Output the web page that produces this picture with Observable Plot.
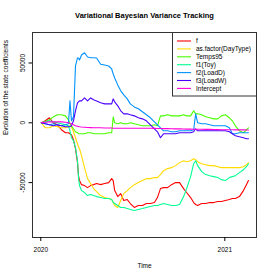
<!DOCTYPE html>
<html><head><meta charset="utf-8">
<script src="https://cdn.jsdelivr.net/npm/d3@7"></script>
<script src="https://cdn.jsdelivr.net/npm/@observablehq/plot@0.6"></script>
<style>body{margin:0;background:#fff} svg{display:block}</style>
</head><body><div id="chart"></div>
<script>
const title = "Variational Bayesian Variance Tracking";
const xLabel = "Time";
const yLabel = "Evolution of the state coefficients";
const seriesNames = ["f","as.factor(DayType)","Temps95","f1(Toy)","f2(LoadD)","f3(LoadW)","Intercept"];
const seriesColors = ["#FF0000","#FFDB00","#49FF00","#00FF92","#0092FF","#4900FF","#FF00DB"];
const yTicks = [-50000, 0, 50000];
const xTickYears = [2020, 2021];
// days since 2020-01-01
const days = [1,9,17,25,33,41,49,55,58,61,65,69,73,75,77,81,87,93,99,105,111,119,127,135,141,144,147,153,159,165,172,178,186,194,202,210,218,226,232,238,244,252,260,268,276,284,290,298,304,308,312,320,328,336,344,352,359,367,375,381,387,395,403,409,413];
const fVals = [0,1700,4200,0,-1700,-5800,-8300,-8300,-9200,-10000,
 -14200,-21700,-33300,-44200,-48300,-51700,-52500,-54200,-52500,-51700,
 -50800,-51700,-50800,-50000,-46700,-48300,-56700,-61700,-59200,-65000,
 -64200,-67500,-70800,-69200,-69200,-67500,-67500,-66700,-62500,-55000,
 -54200,-54200,-51700,-50000,-50000,-55000,-58300,-62500,-66700,-68300,
 -69200,-67500,-67500,-66700,-66700,-65800,-65800,-65000,-64200,-63300,
 -63300,-61700,-56700,-51700,-48300];
const dayTypeVals = [0,-4200,-4200,-2500,-3300,-4200,-4200,-3300,-2500,-3300,
 -7500,-12500,-17500,-20000,-21700,-27500,-37500,-46700,-50800,-55000,
 -57500,-60800,-62500,-63300,-64200,-66700,-69200,-70800,-65000,-59200,
 -56700,-54200,-51700,-50000,-48300,-46700,-46700,-45800,-45800,-43300,
 -40000,-38300,-37500,-35800,-33300,-31700,-32500,-31700,-30000,-30800,
 -32500,-34200,-35000,-35800,-35800,-36700,-37500,-37500,-37500,-37500,
 -37500,-37500,-36700,-35000,-33300];
const temps95Vals = [0,800,2500,5000,6700,6700,5800,2500,-800,-2500,
 -5000,-7500,-8300,-9200,-9200,-9200,-9200,-8300,-8300,-9200,
 -9200,-9200,-9200,-8300,-8300,5000,0,-800,0,-800,
 -800,0,-800,-1700,-2500,-2500,-2500,-1700,-2500,5800,
 5800,6700,5800,5800,5800,6700,5800,5800,10000,7500,
 7500,6700,5000,4200,3300,3300,5800,6700,4200,1700,
 -2500,-6700,-8300,-5800,-4200];
const toyVals = [0,800,1700,800,0,-800,-1700,-2500,-6700,-12500,
 -15000,-20800,-31700,-45800,-52500,-56700,-58300,-60800,-60000,-60800,
 -61700,-62500,-63300,-63300,-64200,-66700,-67500,-69200,-70800,-70800,
 -71700,-72500,-73300,-72500,-71700,-70800,-70000,-69200,-69200,-68300,
 -67500,-68300,-69200,-69200,-68300,-61700,-55000,-45000,-34200,-31700,
 -35800,-40800,-43300,-44200,-45000,-45800,-47500,-48300,-45800,-45000,
 -44200,-41700,-39200,-36700,-34200];
const loadDVals = [0,-800,-1700,-800,-1700,-2500,-1700,-800,18300,1700,
 5000,47500,54200,54200,52500,56700,58600,55000,54400,54400,
 54200,49000,48300,47500,45000,40800,37500,31700,26700,23300,
 20000,15800,13300,11700,9200,6700,4200,800,-1700,-4200,
 -6700,-6700,-7500,-7500,-6700,-6700,-6700,-6700,-5800,7500,
 0,-800,-800,-1700,-2500,-2500,-2500,-2500,-4200,-9200,
 -9200,-8300,-8300,-8300,-8300];
const loadWVals = [0,-800,-1700,-2500,-1700,-2500,-3300,-3300,-3300,-2500,
 1700,10000,16700,17500,18300,18300,20800,18300,20800,19200,
 18300,16700,15800,15800,15800,20000,17500,14200,10000,7500,
 7500,6700,5800,4200,3300,1700,-1700,-5000,-7500,-12500,
 -9200,-9200,-9200,-9200,-8300,-8300,-8300,-8300,-7500,-5000,
 -6700,-6700,-6700,-6700,-6700,-6700,-6700,-6700,-7500,-9200,
 -10800,-11700,-12500,-13300,-13300];
const interceptVals = [0,400,800,800,800,800,400,0,-400,-800,
 -1700,-2500,-2900,-3100,-3300,-3500,-3700,-3900,-4000,-4100,
 -4100,-4200,-4300,-4400,-4400,-4500,-4500,-4500,-4500,-4500,
 -4600,-4600,-4600,-4600,-4600,-4600,-4600,-4700,-4800,-4800,
 -4900,-4900,-5000,-5100,-5100,-5200,-5300,-5300,-5400,-5400,
 -5400,-5400,-5500,-5500,-5600,-5700,-5800,-5800,-5800,-5800,
 -5900,-5900,-5900,-6000,-6000];

const allVals = [fVals, dayTypeVals, temps95Vals, toyVals, loadDVals, loadWVals, interceptVals];
const rows = [];
allVals.forEach((vals, s) => vals.forEach((v, i) => rows.push({
  series: seriesNames[s], date: new Date(Date.UTC(2020, 0, 1 + days[i])), value: v
})));
const xTicks = xTickYears.map(y => new Date(Date.UTC(y, 0, 1)));
const font = "'Liberation Sans', Arial, Helvetica, sans-serif";

const plot = Plot.plot({
  width: 273, height: 278,
  marginLeft: 32, marginRight: 17, marginTop: 32, marginBottom: 41,
  style: {fontFamily: font, fontSize: "6.5px", background: "#fff", color: "#000"},
  x: {type: "utc", domain: [new Date(Date.UTC(2019, 11, 15, 12)), new Date(Date.UTC(2021, 2, 5))]},
  y: {domain: [-95900, 75500]},
  color: {domain: seriesNames, range: seriesColors},
  marks: [
    Plot.line(rows, {x: "date", y: "value", z: "series", stroke: "series", strokeWidth: 1.1}),
    Plot.frame({stroke: "#333"}),
    Plot.axisY({ticks: yTicks, tickSize: 3.5, tickFormat: () => "", label: null}),
    Plot.text(yTicks, {y: d => d, text: d => String(d), frameAnchor: "left", dx: -7.5, rotate: -90, textAnchor: "middle", lineAnchor: "bottom", fontSize: 6.5}),
    Plot.axisX({ticks: xTicks, tickSize: 4, tickPadding: 6, tickFormat: d3.utcFormat("%Y"), label: null, fontSize: 6.5}),
    Plot.text([title], {frameAnchor: "top", dy: -17, fontWeight: "bold", fontSize: 7.5, lineAnchor: "middle"}),
    Plot.text([xLabel], {frameAnchor: "bottom", dy: 28, lineAnchor: "middle", fontSize: 6.5}),
    Plot.text([yLabel], {frameAnchor: "left", dx: -27, rotate: -90, lineAnchor: "middle", fontSize: 6.5})
  ]
});

const g = d3.select(plot).append("g").attr("font-family", font).attr("font-size", 6.5).attr("text-anchor", "start");
g.append("rect").attr("x", 172.5).attr("y", 32.5).attr("width", 84).attr("height", 63.5)
  .attr("fill", "#fff").attr("stroke", "#333");
seriesNames.forEach((n, i) => {
  const yy = 41 + i * 7.9;
  g.append("line").attr("x1", 177).attr("x2", 191).attr("y1", yy).attr("y2", yy)
    .attr("stroke", seriesColors[i]).attr("stroke-width", 1.1);
  g.append("text").attr("x", 196).attr("y", yy).attr("dy", "0.35em").attr("text-anchor", "start")
    .attr("fill", "#000").text(n);
});
document.getElementById("chart").appendChild(plot);
</script></body></html>
